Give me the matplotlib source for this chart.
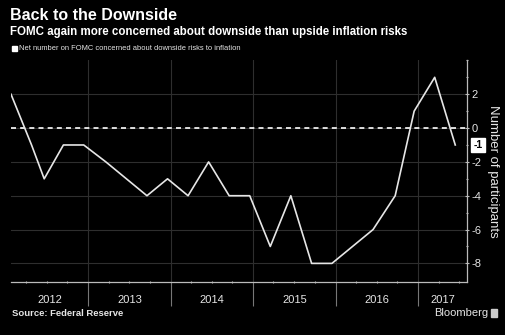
import matplotlib
matplotlib.use("Agg")
import matplotlib.pyplot as plt
import matplotlib.dates as mdates
import pandas as pd

# FOMC meetings with projections, net number concerned about downside risks
dates = ["2012-01-25", "2012-04-25", "2012-06-20", "2012-09-13", "2012-12-12",
         "2013-03-20", "2013-06-19", "2013-09-18", "2013-12-18",
         "2014-03-19", "2014-06-18", "2014-09-17", "2014-12-17",
         "2015-03-18", "2015-06-17", "2015-09-17", "2015-12-16",
         "2016-03-16", "2016-06-15", "2016-09-21", "2016-12-14",
         "2017-03-15", "2017-06-14"]
net_downside = [2, -1, -3, -1, -1,
                -2, -3, -4, -3,
                -4, -2, -4, -4,
                -7, -4, -8, -8,
                -7, -6, -4, 1,
                3, -1]
years = [2012, 2013, 2014, 2015, 2016, 2017]
yticks = [2, 0, -2, -4, -6, -8]

df = pd.DataFrame({"date": pd.to_datetime(dates), "val": net_downside})

bg = "black"
fg = "#e6e6e6"
grid_c = "#2e2e2e"
font = "Liberation Sans"

fig = plt.figure(figsize=(5.05, 3.35), dpi=100, facecolor=bg)
ax = fig.add_axes([11 / 505, 1 - 282 / 335, (467 - 11) / 505, (282 - 60.4) / 335])
ax.set_facecolor(bg)

ax.plot(df["date"], df["val"], color=fg, lw=1.2, zorder=3)
ax.axhline(0, color="white", lw=1.2, ls=(0, (3, 2.5)), zorder=2)

x0, x1 = pd.Timestamp("2012-01-25"), pd.Timestamp("2017-08-05")
ax.set_xlim(x0, x1)
ax.set_ylim(-9.1, 4)

# grid
for v in yticks:
    ax.axhline(v, color=grid_c, lw=0.8, zorder=1)
for y in years[1:]:
    ax.axvline(pd.Timestamp(f"{y}-01-01"), color=grid_c, lw=0.8, zorder=1)

# spines
for s in ["left", "top"]:
    ax.spines[s].set_visible(False)
ax.spines["right"].set_color("#bbbbbb")
ax.spines["bottom"].set_color("#bbbbbb")
ax.spines["right"].set_linewidth(0.9)
ax.spines["bottom"].set_linewidth(0.9)

# y axis on right
ax.yaxis.tick_right()
ax.set_yticks(yticks)
ax.set_yticklabels([str(v) for v in yticks], fontfamily=font)
ax.set_yticks([3, 1, -1, -3, -5, -7, 4], minor=True)
ax.tick_params(axis="y", which="major", colors="#bbbbbb", labelcolor=fg,
               labelsize=8, length=3, width=0.8, pad=2, direction="inout")
ax.tick_params(axis="y", which="minor", colors="#bbbbbb", length=2, width=0.8,
               direction="inout")
ax.yaxis.set_label_position("right")
ax.set_ylabel("Number of participants", color=fg, fontsize=9.5, rotation=-90,
              labelpad=12, fontfamily=font)

# x axis: year separators and labels centred on the visible part of each year
ax.xaxis.set_major_locator(mdates.YearLocator())
ax.xaxis.set_major_formatter(plt.NullFormatter())
ax.xaxis.set_minor_locator(mdates.MonthLocator(bymonth=[4, 7, 10]))
ax.tick_params(axis="x", which="major", colors="#777777", length=17, width=0.8,
               direction="out")
ax.tick_params(axis="x", which="minor", colors="#bbbbbb", length=2, width=0.8,
               direction="inout")
for y in years:
    a = max(pd.Timestamp(f"{y}-01-01"), x0)
    b = min(pd.Timestamp(f"{y + 1}-01-01"), x1)
    mid = a + (b - a) / 2
    ax.text(mid, -0.08, str(y), transform=ax.get_xaxis_transform(),
            ha="center", va="center", color=fg, fontsize=8, fontfamily=font)

# last value label
last = df.iloc[-1]
ax.annotate(str(last["val"]), xy=(1.0, last["val"]), xycoords=("axes fraction", "data"),
            xytext=(8, 0), textcoords="offset points", ha="center", va="center",
            fontsize=7.5, color="black", fontfamily=font, fontweight="bold",
            bbox=dict(boxstyle="square,pad=0.2", fc="white", ec="white"),
            annotation_clip=False)

# titles and legend
fig.text(10 / 505, 1 - 15 / 335, "Back to the Downside", color="white",
         fontsize=11.5, fontweight="bold", va="center", ha="left", fontfamily=font)
fig.text(10 / 505, 1 - 32 / 335,
         "FOMC again more concerned about downside than upside inflation risks",
         color="white", fontsize=8.3, fontweight="bold", va="center", ha="left",
         fontfamily=font)
fig.patches.append(plt.Rectangle((12 / 505, 1 - 51 / 335), 5 / 505, 5 / 335,
                                 transform=fig.transFigure, color="white"))
fig.text(19 / 505, 1 - 48.5 / 335,
         "Net number on FOMC concerned about downside risks to inflation",
         color=fg, fontsize=5.4, va="center", ha="left", fontfamily=font)

fig.text(12 / 505, 1 - 314 / 335, "Source: Federal Reserve", color=fg,
         fontsize=6.8, fontweight="bold", va="center", ha="left", fontfamily=font)
fig.text(488 / 505, 1 - 313 / 335, "Bloomberg", color=fg, fontsize=8,
         va="center", ha="right", fontfamily=font)
fig.patches.append(plt.Rectangle((491 / 505, 1 - 317 / 335), 6 / 505, 8 / 335,
                                 transform=fig.transFigure, color="#cccccc"))

fig.savefig("out.png", dpi=100, facecolor=bg)
